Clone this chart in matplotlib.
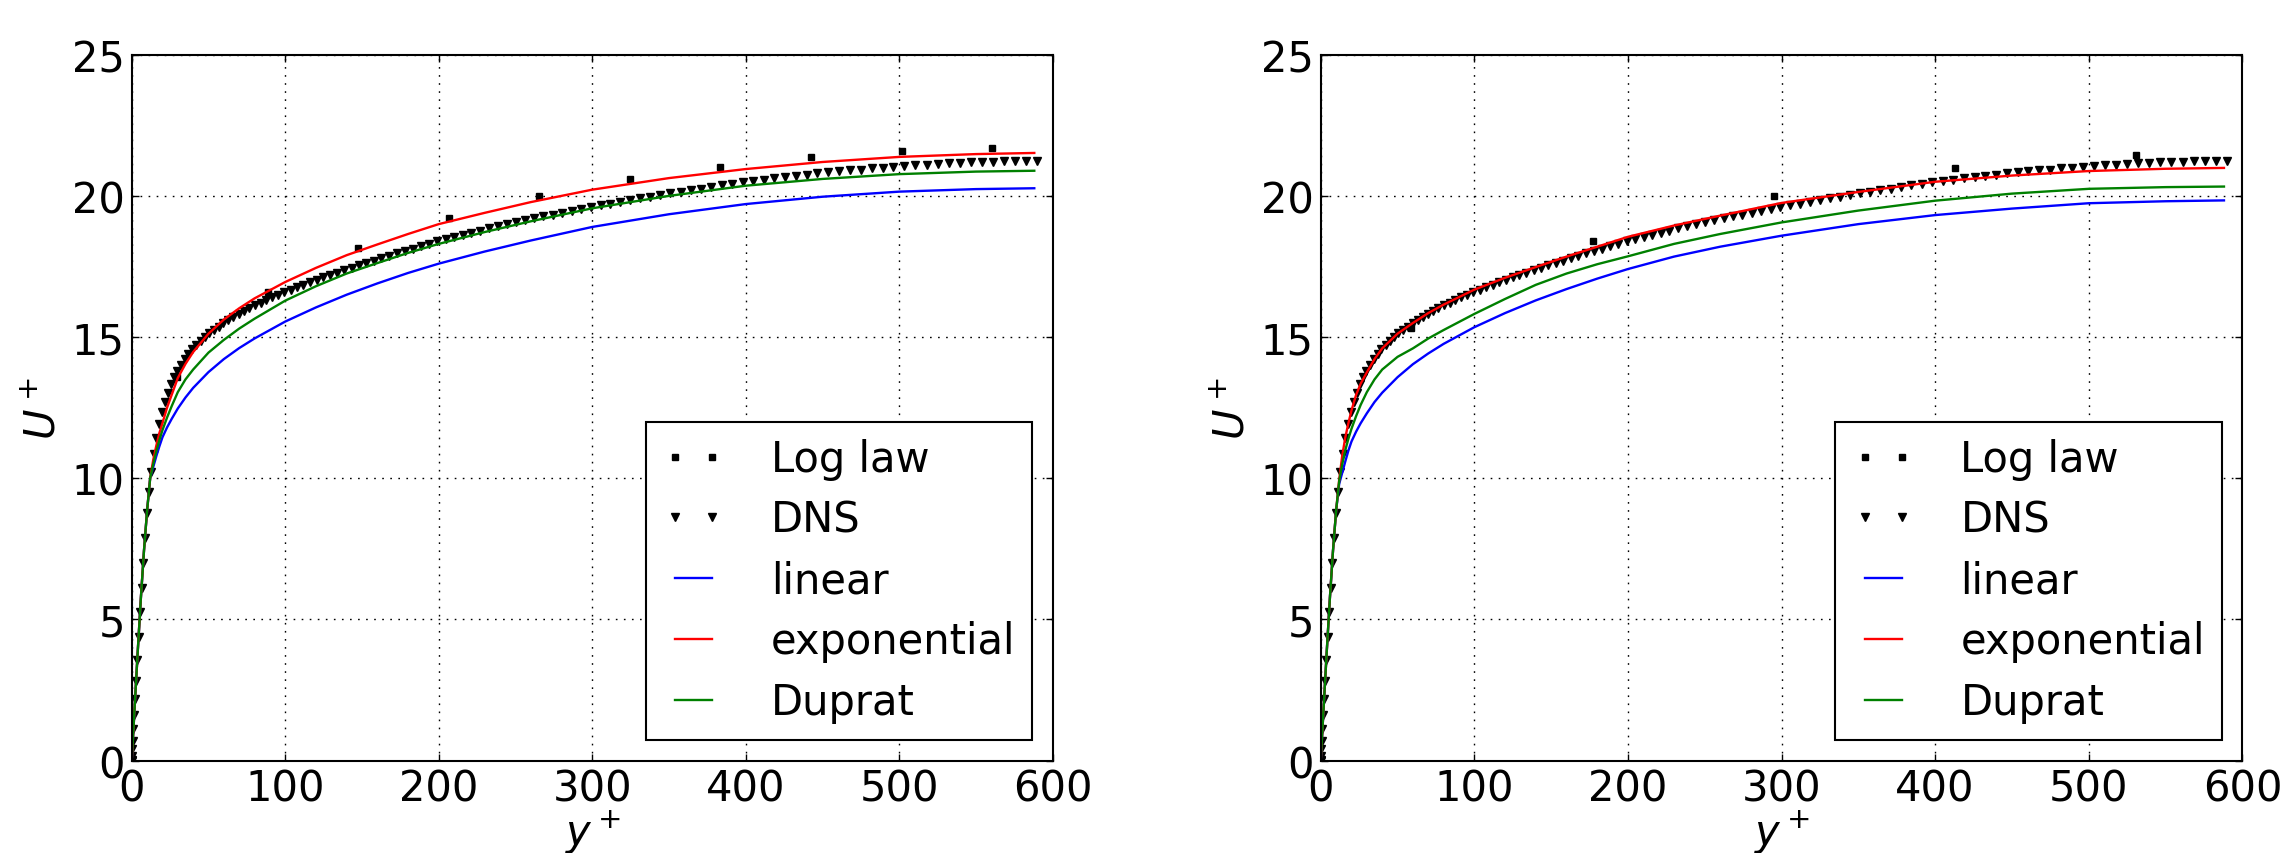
import matplotlib
matplotlib.use("Agg")
import matplotlib.pyplot as plt

# DNS channel flow, Re_tau = 590 (same profile on both panels)
yp_dns = [0.0, 0.04, 0.18, 0.40, 0.71, 1.11, 1.60, 2.18, 2.84, 3.59,
          4.44, 5.37, 6.39, 7.49, 8.69, 9.97, 11.34, 12.79, 14.34, 15.97,
          17.68, 19.48, 21.37, 23.35, 25.40, 27.55, 29.78, 32.09, 34.49, 36.97,
          39.54, 42.18, 44.91, 47.72, 50.62, 53.59, 56.65, 59.78, 63.00, 66.29,
          69.67, 73.12, 76.65, 80.26, 83.94, 87.70, 91.53, 95.44, 99.43, 103.49,
          107.62, 111.83, 116.10, 120.45, 124.88, 129.37, 133.92, 138.55, 143.24, 148.01,
          152.84, 157.73, 162.69, 167.72, 172.81, 177.96, 183.17, 188.44, 193.78, 199.18,
          204.63, 210.14, 215.71, 221.33, 227.01, 232.75, 238.54, 244.38, 250.27, 256.22,
          262.21, 268.26, 274.35, 280.49, 286.68, 292.91, 299.19, 305.51, 311.87, 318.29,
          324.73, 331.22, 337.74, 344.31, 350.91, 357.55, 364.22, 370.92, 377.66, 384.43,
          391.23, 398.07, 404.93, 411.82, 418.73, 425.67, 432.64, 439.63, 446.64, 453.67,
          460.73, 467.80, 474.90, 482.01, 489.13, 496.27, 503.43, 510.59, 517.78, 524.97,
          532.17, 539.38, 546.60, 553.82, 561.05, 568.28, 575.52, 582.76, 590.00]
u_dns = [0.0, 0.04, 0.18, 0.40, 0.71, 1.11, 1.60, 2.18, 2.83, 3.57,
         4.39, 5.26, 6.12, 7.00, 7.88, 8.76, 9.53, 10.24, 10.87, 11.44,
         11.91, 12.33, 12.71, 13.03, 13.33, 13.57, 13.80, 14.00, 14.21, 14.39,
         14.57, 14.72, 14.87, 15.01, 15.14, 15.26, 15.37, 15.49, 15.60, 15.71,
         15.82, 15.92, 16.02, 16.13, 16.22, 16.31, 16.41, 16.50, 16.59, 16.67,
         16.76, 16.85, 16.94, 17.03, 17.11, 17.20, 17.28, 17.37, 17.46, 17.54,
         17.62, 17.71, 17.79, 17.88, 17.96, 18.05, 18.13, 18.22, 18.30, 18.39,
         18.46, 18.54, 18.61, 18.69, 18.77, 18.85, 18.92, 19.00, 19.08, 19.15,
         19.21, 19.28, 19.34, 19.41, 19.48, 19.54, 19.61, 19.67, 19.73, 19.79,
         19.85, 19.91, 19.97, 20.03, 20.09, 20.14, 20.20, 20.26, 20.31, 20.37,
         20.43, 20.48, 20.53, 20.58, 20.62, 20.66, 20.71, 20.75, 20.80, 20.84,
         20.87, 20.90, 20.93, 20.97, 21.00, 21.03, 21.06, 21.08, 21.10, 21.12,
         21.15, 21.17, 21.19, 21.20, 21.21, 21.22, 21.23, 21.24, 21.25]

# log law evaluated at the cell centres (fine mesh / coarse mesh)
yp_log_fine = [29.5, 88.5, 147.5, 206.5, 265.5, 324.5, 383.5, 442.5, 501.5, 560.5]
u_log_fine = [13.60, 16.58, 18.14, 19.21, 20.00, 20.59, 21.03, 21.36, 21.60, 21.69]
yp_log_coarse = [59.0, 177.0, 295.0, 413.0, 531.0]
u_log_coarse = [15.31, 18.40, 20.01, 20.98, 21.45]

# wall-function model profiles
yp_model = [0, 2, 4, 6, 8, 10, 12, 14, 16, 18, 20, 23, 26, 30, 35, 40, 50, 60, 70, 80,
            100, 120, 140, 160, 180, 200, 230, 260, 300, 350, 400, 450, 500, 550, 588]

u_linear_fine = [0, 2.0, 3.95, 5.8, 7.45, 8.85, 10.0, 10.4, 10.78, 11.13, 11.45,
                 11.8, 12.1, 12.47, 12.86, 13.2, 13.76, 14.22, 14.61, 14.95, 15.55,
                 16.05, 16.5, 16.9, 17.27, 17.6, 18.03, 18.42, 18.9, 19.35, 19.71,
                 19.97, 20.15, 20.24, 20.27]
u_exp_fine = [0, 2.0, 3.95, 5.8, 7.45, 8.85, 10.0, 10.65, 11.15, 11.6, 11.95,
              12.5, 12.95, 13.55, 14.05, 14.47, 15.12, 15.62, 16.02, 16.37, 16.95,
              17.45, 17.9, 18.28, 18.65, 19.0, 19.4, 19.78, 20.22, 20.63, 20.95,
              21.2, 21.38, 21.48, 21.52]
u_duprat_fine = [0, 2.0, 3.95, 5.8, 7.45, 8.85, 10.0, 10.5, 10.95, 11.35, 11.7,
                 12.15, 12.55, 13.05, 13.5, 13.85, 14.45, 14.9, 15.3, 15.65, 16.29,
                 16.8, 17.25, 17.62, 17.98, 18.3, 18.72, 19.1, 19.56, 20.0, 20.36,
                 20.6, 20.77, 20.86, 20.89]

u_linear_coarse = [0, 2.0, 3.95, 5.8, 7.45, 8.85, 9.8, 10.2, 10.6, 10.98, 11.3,
                   11.65, 11.95, 12.3, 12.7, 13.03, 13.58, 14.04, 14.42, 14.76, 15.35,
                   15.85, 16.3, 16.7, 17.07, 17.41, 17.85, 18.2, 18.59, 19.0, 19.32,
                   19.55, 19.74, 19.81, 19.84]
u_exp_coarse = [0, 2.0, 3.95, 5.8, 7.45, 8.85, 9.95, 10.8, 11.45, 11.95, 12.4,
                12.95, 13.35, 13.75, 14.22, 14.6, 15.12, 15.5, 15.85, 16.15, 16.68,
                17.1, 17.48, 17.85, 18.2, 18.55, 18.95, 19.3, 19.75, 20.14, 20.5,
                20.72, 20.88, 20.96, 20.99]
u_duprat_coarse = [0, 2.0, 3.95, 5.8, 7.45, 8.85, 9.9, 10.5, 11.0, 11.4, 11.75,
                   12.2, 12.6, 13.05, 13.5, 13.85, 14.3, 14.6, 14.95, 15.25, 15.82,
                   16.35, 16.85, 17.25, 17.58, 17.86, 18.3, 18.65, 19.06, 19.48, 19.83,
                   20.08, 20.25, 20.31, 20.33]

FS = 30

plt.rcParams["font.family"] = "DejaVu Sans"
plt.rcParams["mathtext.fontset"] = "dejavusans"
plt.rcParams["axes.linewidth"] = 1.5


def draw_panel(ax, yp_log, u_log, u_lin, u_exp, u_dup):
    ax.plot(yp_log, u_log, "ks", ms=5, ls="none", label="Log law")
    ax.plot(yp_dns, u_dns, "kv", ms=5.5, ls="none", label="DNS")
    ax.plot(yp_model, u_lin, color="b", lw=1.7, label="linear")
    ax.plot(yp_model, u_exp, color="r", lw=1.7, label="exponential")
    ax.plot(yp_model, u_dup, color=(0, 0.5, 0), lw=1.7, label="Duprat")

    ax.set_xlim(0, 600)
    ax.set_ylim(0, 25)
    ax.set_xticks(range(0, 601, 100))
    ax.set_yticks(range(0, 26, 5))
    ax.grid(True, color="k", ls=(0, (1.2, 4.6)), lw=1.0)
    ax.tick_params(direction="in", length=5, width=1, top=True, right=True,
                   labelsize=FS)
    ax.tick_params(axis="x", pad=5)
    ax.tick_params(axis="y", pad=5)
    ax.set_xlabel("$y^+$", fontsize=FS, labelpad=-2)
    ax.set_ylabel("$U^+$", fontsize=FS, labelpad=6)

    leg = ax.legend(loc="lower right", numpoints=2, fontsize=FS, fancybox=False,
                    framealpha=1, edgecolor="k", handlelength=1.5,
                    handletextpad=1.1, labelspacing=0.45, borderpad=0.4,
                    borderaxespad=0.5)
    leg.get_frame().set_linewidth(1.5)


fig = plt.figure(figsize=(22.87, 8.54), dpi=100)
ax_fine = fig.add_axes([0.0576, 0.1081, 0.4027, 0.8267])
ax_coarse = fig.add_axes([0.5775, 0.1081, 0.4030, 0.8267])

draw_panel(ax_fine, yp_log_fine, u_log_fine, u_linear_fine, u_exp_fine, u_duprat_fine)
draw_panel(ax_coarse, yp_log_coarse, u_log_coarse, u_linear_coarse, u_exp_coarse,
           u_duprat_coarse)

fig.savefig("out.png", dpi=100, facecolor="white")
